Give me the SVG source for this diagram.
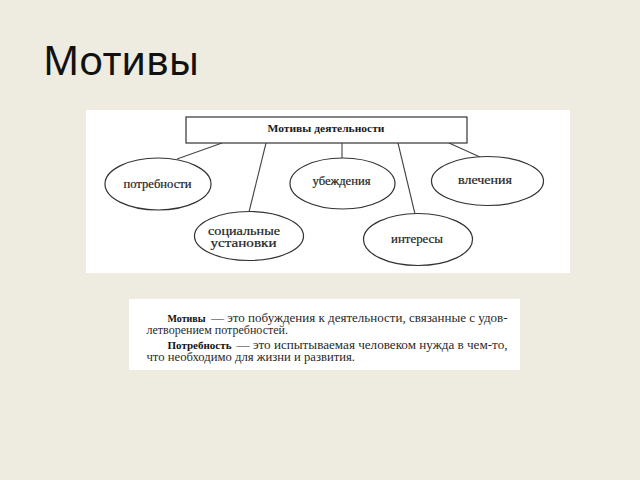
<svg xmlns="http://www.w3.org/2000/svg" width="640" height="480" viewBox="0 0 640 480">
<style>
.title{font-family:"Noto Sans","DejaVu Sans",sans-serif;font-size:40px;fill:#111}
.lbl{font-family:"Liberation Serif","Times New Roman",serif;font-size:11.5px;fill:#1e1e1e;stroke:#1e1e1e;stroke-width:0.2;text-anchor:middle}
.head{font-family:"Liberation Serif","Times New Roman",serif;font-size:11px;font-weight:bold;fill:#1a1a1a;text-anchor:middle}
.node{fill:#fff;stroke:#333;stroke-width:1.2}
.conn line{stroke:#444;stroke-width:1.1}
.body{font-family:"Liberation Serif","Times New Roman",serif;font-size:12px;fill:#2a2a2a}
.b{font-weight:bold;fill:#111;font-size:11.2px}
</style>
<rect x="0" y="0" width="640" height="480" fill="#EEEBE0"/>
<text class="title" x="43" y="75">Мотивы</text>
<rect x="86" y="110" width="484" height="163" fill="#fff"/>
<g class="conn">
<line x1="222" y1="143" x2="177" y2="159"/>
<line x1="266" y1="143" x2="249" y2="212"/>
<line x1="342" y1="143" x2="342" y2="158"/>
<line x1="398" y1="143" x2="415" y2="214"/>
<line x1="449" y1="143" x2="480" y2="157"/>
</g>
<g id="n-motives">
<rect class="node" x="186" y="117" width="281" height="26"/>
<text class="head" x="326" y="132" textLength="117" lengthAdjust="spacingAndGlyphs">Мотивы деятельности</text>
</g>
<g id="n-needs">
<ellipse class="node" cx="158" cy="184" rx="53" ry="26"/>
<text class="lbl" x="157.5" y="187.5" textLength="68" lengthAdjust="spacingAndGlyphs">потребности</text>
</g>
<g id="n-social">
<ellipse class="node" cx="249" cy="236" rx="54.5" ry="24.5"/>
<text class="lbl" x="244" y="234.5" textLength="72" lengthAdjust="spacingAndGlyphs">социальные</text>
<text class="lbl" x="243.5" y="247" textLength="66" lengthAdjust="spacingAndGlyphs">установки</text>
</g>
<g id="n-beliefs">
<ellipse class="node" cx="342.5" cy="183.5" rx="52.5" ry="25.5"/>
<text class="lbl" x="341.5" y="185" textLength="58" lengthAdjust="spacingAndGlyphs">убеждения</text>
</g>
<g id="n-interests">
<ellipse class="node" cx="418" cy="239.5" rx="54.5" ry="26"/>
<text class="lbl" x="417" y="243" textLength="52" lengthAdjust="spacingAndGlyphs">интересы</text>
</g>
<g id="n-drives">
<ellipse class="node" cx="487.5" cy="181" rx="56" ry="24.5"/>
<text class="lbl" x="485" y="183.5" textLength="54" lengthAdjust="spacingAndGlyphs">влечения</text>
</g>
<g id="definitions">
<rect x="129" y="299" width="391" height="71" fill="#fff"/>
<text class="body b" x="167.5" y="322" textLength="38" lengthAdjust="spacingAndGlyphs">Мотивы</text>
<text class="body" x="211" y="322" textLength="296.5" lengthAdjust="spacingAndGlyphs">— это побуждения к деятельности, связанные с удов-</text>
<text class="body" x="146.5" y="333.5" textLength="141.5" lengthAdjust="spacingAndGlyphs">летворением потребностей.</text>
<text class="body b" x="167.5" y="349" textLength="64" lengthAdjust="spacingAndGlyphs">Потребность</text>
<text class="body" x="236.5" y="349" textLength="271" lengthAdjust="spacingAndGlyphs">— это испытываемая человеком нужда в чем-то,</text>
<text class="body" x="146.5" y="361" textLength="208.5" lengthAdjust="spacingAndGlyphs">что необходимо для жизни и развития.</text>
</g>
</svg>
